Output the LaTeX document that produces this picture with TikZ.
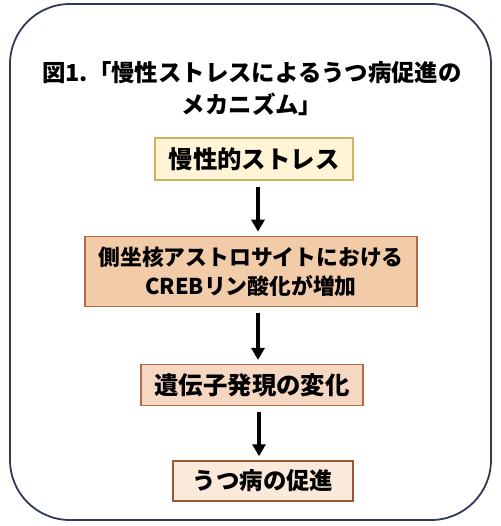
\documentclass[tikz,border=0pt]{standalone}
\usepackage{fontspec}
\setmainfont{Noto Sans CJK JP}
\usepackage{tikz}
\usetikzlibrary{shapes,arrows.meta,positioning}
\definecolor{framec}{HTML}{2E3A57}
\definecolor{goldline}{HTML}{D2B25E}
\definecolor{goldfill}{HTML}{FFF5D6}
\definecolor{brownline}{HTML}{B06A45}
\definecolor{tanfill}{HTML}{F2CBA8}
\definecolor{peachfill}{HTML}{F6D8C2}
\definecolor{palefill}{HTML}{FBE9DA}
\tikzstyle{frame} = [draw=framec, line width=1.8pt, rounded corners=60pt]
\tikzstyle{heading} = [align=center, font=\bfseries\fontsize{23.4}{32}\selectfont]
\tikzstyle{block} = [rectangle, draw=brownline, line width=1.3pt, align=center, inner sep=0pt, font=\bfseries\fontsize{24.4}{29}\selectfont]
\tikzstyle{line} = [draw, line width=3.4pt, -{Triangle[width=13pt,length=12pt]}, shorten <=6pt, shorten >=4pt]

\begin{document}
\begin{tikzpicture}[x=1pt, y=-1pt]
      \useasboundingbox (0,0) rectangle (500,526);
      \draw [frame] (10,4) rectangle (491,520);

      \node [heading] (title) at (252,89) {図1.「慢性ストレスによるうつ病促進の\\メカニズム」};
      \node [block, draw=goldline, fill=goldfill, minimum width=198pt, minimum height=42pt] (stress) at (254,159) {慢性的ストレス};
      \node [block, fill=tanfill, minimum width=332pt, minimum height=70pt, font=\bfseries\fontsize{21.8}{29}\selectfont, below=55pt of stress.south, anchor=north, xshift=-3pt] (astro) {側坐核アストロサイトにおける\\CREBリン酸化が増加};
      \node [block, fill=peachfill, minimum width=222pt, minimum height=41pt, below=57pt of astro.south, anchor=north, xshift=1pt] (gene) {遺伝子発現の変化};
      \node [block, draw=brownline!85!black, fill=palefill, minimum width=180pt, minimum height=40pt, font=\bfseries\fontsize{23.4}{29}\selectfont, below=54pt of gene.south, anchor=north, xshift=11pt] (depr) {うつ病の促進};

      \path [line] ([xshift=4pt]stress.south) -- ([xshift=4pt]stress.south |- astro.north);
      \path [line] ([xshift=7pt]astro.south) -- ([xshift=7pt]astro.south |- gene.north);
      \path [line] ([xshift=7pt]gene.south) -- ([xshift=7pt]gene.south |- depr.north);
    \end{tikzpicture}
\end{document}
